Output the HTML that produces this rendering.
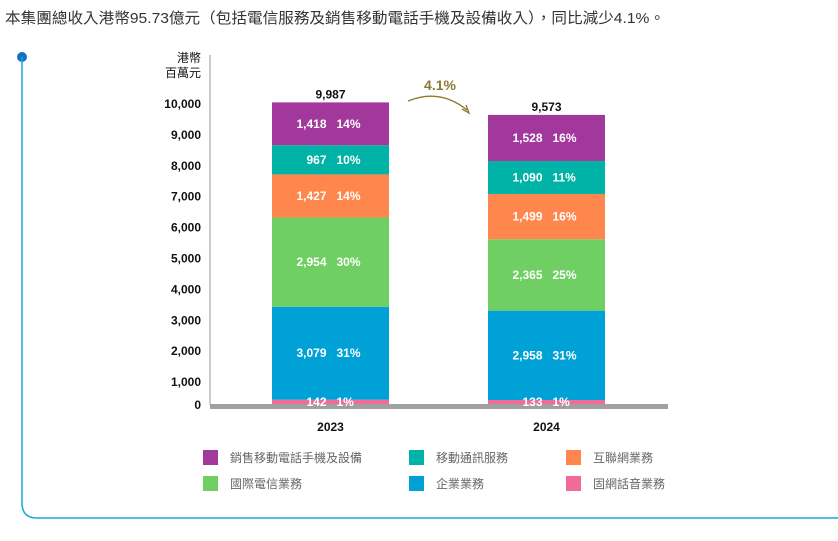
<!DOCTYPE html>
<html><head><meta charset="utf-8"><style>
body{margin:0;background:#fff;width:838px;height:536px;overflow:hidden;font-family:"Liberation Sans","Noto Sans CJK TC",sans-serif}
svg text{font-family:"Liberation Sans Narrow","Liberation Sans","Noto Sans CJK TC",sans-serif}
.cjk{font-family:"Liberation Sans","Noto Sans CJK TC",sans-serif!important}
</style></head><body>
<svg id="c" width="838" height="536" xmlns="http://www.w3.org/2000/svg">
<text class="cjk" x="5" y="23" font-size="15" fill="#333" textLength="660" lengthAdjust="spacingAndGlyphs">本集團總收入港幣95.73億元（包括電信服務及銷售移動電話手機及設備收入），同比減少4.1%。</text>
<circle cx="22" cy="57" r="5" fill="#1670c2"/>
<path d="M22 57 V503 Q22 518 37 518 H838" fill="none" stroke="#18a9dc" stroke-width="1.5"/>
<line x1="210" y1="55" x2="210" y2="405" stroke="#bbb" stroke-width="1.5"/>
<text class="cjk" x="201" y="62" font-size="12" text-anchor="end" fill="#111">港幣</text>
<text class="cjk" x="201" y="77" font-size="12" text-anchor="end" fill="#111">百萬元</text>
<g id="ticks"></g><g id="bars"></g>
<rect x="210" y="404" width="458" height="5" fill="#a0a0a0"/>
<g id="labels"></g>
<text x="440" y="90" font-size="14" font-weight="bold" fill="#8c7a32" text-anchor="middle">4.1%</text>
<path d="M408 101 Q440 88 467 110" fill="none" stroke="#8c7a32" stroke-width="1.3"/>
<path d="M462 109 L469 113 L466 105" fill="none" stroke="#8c7a32" stroke-width="1.3"/>
<g id="legend"></g>
</svg>
<script>
const years=["2023","2024"];
const seriesNames=["固網話音業務","企業業務","國際電信業務","互聯網業務","移動通訊服務","銷售移動電話手機及設備"];
const seriesColors=["#f06b9a","#00a1d6","#6fcf63","#ff874d","#00b3a6","#a2379c"];
const v2023=[142,3079,2954,1427,967,1418];
const v2024=[133,2958,2365,1499,1090,1528];
const p2023=["1%","31%","30%","14%","10%","14%"];
const p2024=["1%","31%","25%","16%","11%","16%"];
const totals=[9987,9573];
const tickVals=[0,1000,2000,3000,4000,5000,6000,7000,8000,9000,10000];
const NS="http://www.w3.org/2000/svg";
const y=v=>404-v*0.0302;
const ly=v=>v===0?409:417-v*0.0309;
const bx=i=>272+i*216, bw=117;
function el(t,a,p){const e=document.createElementNS(NS,t);for(const k in a)e.setAttribute(k,a[k]);p.appendChild(e);return e;}
const tk=document.getElementById('ticks');
tickVals.forEach(v=>{const t=el('text',{x:201,y:ly(v),'font-size':12,'font-weight':'bold','text-anchor':'end',fill:'#111'},tk);


t.textContent=v.toLocaleString('en-US');});
const bg=document.getElementById('bars');
const lb=document.getElementById('labels');
[[v2023,p2023],[v2024,p2024]].forEach(([vals,pcts],i)=>{let acc=0;
vals.forEach((v,j)=>{const r=el('rect',{x:bx(i),y:y(acc+v),width:bw,height:v*0.0302,fill:seriesColors[j]},bg);


const cy=j===0?y(acc)+2:y(acc+v/2)+4;
const a=el('text',{x:bx(i)+bw/2-4,y:cy,'font-size':12,'font-weight':'bold','text-anchor':'end',fill:'#fff'},lb);


a.textContent=v.toLocaleString('en-US');
const b=el('text',{x:bx(i)+bw/2+6,y:cy,'font-size':12,'font-weight':'bold',fill:'#fff'},lb);


b.textContent=pcts[j];acc+=v;});
const tt=el('text',{x:bx(i)+bw/2,y:y(totals[i])-4,'font-size':12,'font-weight':'bold','text-anchor':'middle',fill:'#111'},bg);


tt.textContent=totals[i].toLocaleString('en-US');
const xl=el('text',{x:bx(i)+bw/2,y:431,'font-size':12,'font-weight':'bold','text-anchor':'middle',fill:'#111'},bg);


xl.textContent=years[i];});
const lg=document.getElementById('legend');
const order=[5,4,3,2,1,0];const lx=[203,409,566];
order.forEach((s,k)=>{const X=lx[k%3],Y=450+Math.floor(k/3)*26;
const r=el('rect',{x:X,y:Y,width:15,height:15,fill:seriesColors[s]},lg);


const t=el('text',{x:X+27,y:Y+12,'font-size':12,fill:'#666',class:'cjk'},lg);


t.textContent=seriesNames[s];});
</script>
</body></html>
